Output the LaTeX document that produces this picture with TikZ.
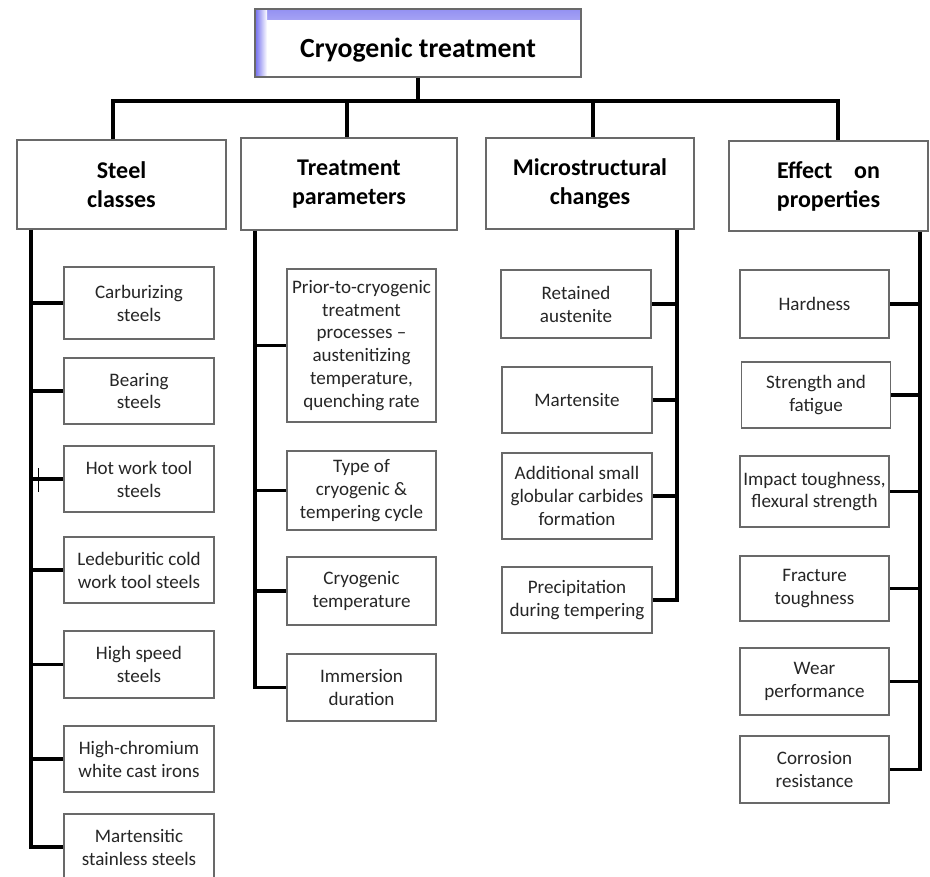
\documentclass[tikz,border=0pt]{standalone}
\usepackage{fontspec}
\setmainfont{Carlito}
\usetikzlibrary{positioning}
\definecolor{rim}{RGB}{105,105,105}
\definecolor{glow}{RGB}{112,108,238}
\newcommand{\pxu}{0.75pt}

\begin{document}
\begin{tikzpicture}[
    x=0.75pt, y=-0.75pt,
    every node/.style={font=\fontsize{14.3}{17.2}\selectfont, text=black!85},
    root/.style={draw=rim, line width=0.8pt, fill=white,
                 minimum width=326*\pxu, minimum height=68*\pxu,
                 text height=27pt, text depth=5pt,
                 font=\bfseries\fontsize{20.8}{25}\selectfont, text=black,
                 path picture={
                   \shade[top color=glow!75, middle color=glow!20, bottom color=white]
                     (path picture bounding box.north west) rectangle
                     ([yshift=-10*\pxu]path picture bounding box.north east);
                   \shade[left color=glow, middle color=glow!30, right color=white]
                     (path picture bounding box.south west) rectangle
                     ([xshift=12*\pxu]path picture bounding box.north west);
                 }},
    head/.style={draw=rim, line width=0.8pt, fill=white, align=center,
                 inner sep=2pt, font=\bfseries\fontsize{18}{21.8}\selectfont,
                 text=black},
    leaf/.style={draw=rim, line width=0.8pt, fill=white, align=center,
                 inner sep=2pt, minimum width=150*\pxu, minimum height=66*\pxu},
    bar/.style ={line width=2.8pt},
]
\path[use as bounding box, clip] (0,0) rectangle (930,876);

\node[root] (root) at (418,43) {Cryogenic treatment};

\node[head, minimum width=209*\pxu, minimum height=89*\pxu] (steel)  at (121.5,184.5) {Steel\\classes};
\node[head, minimum width=216*\pxu, minimum height=92*\pxu] (param)  at (349,184)     {Treatment\\parameters};
\node[head, minimum width=208*\pxu, minimum height=91*\pxu] (micro)  at (590,183.5)   {Microstructural\\changes};
\node[head, minimum width=199*\pxu, minimum height=90*\pxu] (effect) at (828.5,186)   {Effect~~~~on\\properties};

% steel classes
\node[leaf, minimum height=72*\pxu] (carb) at (139,303)   {Carburizing\\steels};
\node[leaf]                         (bear) at (139,391)   {Bearing\\steels};
\node[leaf]                         (hot)  at (139,479)   {Hot work tool\\steels};
\node[leaf]                         (lede) at (139,570)   {Ledeburitic cold\\work tool steels};
\node[leaf, minimum height=67*\pxu] (hss)  at (139,664.5) {High speed\\steels};
\node[leaf]                         (hcr)  at (139,759)   {High-chromium\\white cast irons};
\node[leaf]                         (mss)  at (139,847)   {Martensitic\\stainless steels};

% treatment parameters
\node[leaf, minimum width=149*\pxu, minimum height=153*\pxu] (prior) at (361.5,345.5)
    {Prior-to-cryogenic\\treatment\\processes --\\austenitizing\\temperature,\\quenching rate};
\node[leaf, minimum width=149*\pxu, minimum height=79*\pxu]  (cycle) at (361.5,490.5)
    {Type of\\cryogenic \&\\tempering cycle};
\node[leaf, minimum width=149*\pxu, minimum height=68*\pxu]  (ctemp) at (361.5,591)
    {Cryogenic\\temperature};
\node[leaf, minimum width=149*\pxu, minimum height=67*\pxu]  (immer) at (361.5,687.5)
    {Immersion\\duration};

% microstructural changes
\node[leaf, minimum height=68*\pxu] (ret)  at (576,304) {Retained\\austenite};
\node[leaf]                         (mart) at (577,400) {Martensite};
\node[leaf, minimum height=86*\pxu] (carbides) at (577,496) {Additional small\\globular carbides\\formation};
\node[leaf]                         (prec) at (577,600) {Precipitation\\during tempering};

% effect on properties
\node[leaf, minimum width=149*\pxu, minimum height=68*\pxu] (hard) at (814.5,304)   {Hardness};
\node[leaf, minimum width=149*\pxu]                         (str)  at (816,395)     {Strength and\\fatigue};
\node[leaf, minimum width=149*\pxu, minimum height=71*\pxu] (imp)  at (814.5,491.5) {Impact toughness,\\flexural strength};
\node[leaf, minimum width=149*\pxu, minimum height=65*\pxu] (frac) at (814.5,588.5) {Fracture\\toughness};
\node[leaf, minimum width=149*\pxu, minimum height=67*\pxu] (wear) at (814.5,681.5) {Wear\\performance};
\node[leaf, minimum width=149*\pxu, minimum height=67*\pxu] (corr) at (814.5,769.5) {Corrosion\\resistance};

% top level bar
\coordinate (d1) at (113,101);
\coordinate (d2) at (347,101);
\coordinate (d3) at (593,101);
\coordinate (d4) at (838,101);
\draw[bar] (root.south) -- (root.south |- d1);
\draw[bar] (steel.north -| d1) -- (d1) -- (d4) -- (effect.north -| d4);
\draw[bar] (d2) -- (param.north -| d2);
\draw[bar] (d3) -- (micro.north -| d3);

% spines
\coordinate (s1) at (31,0);
\coordinate (s2) at (255,0);
\coordinate (s3) at (677,0);
\coordinate (s4) at (920,0);

\draw[bar] (steel.south -| s1) |- (mss.west);
\draw[bar] (s1 |- carb.west) -- (carb.west);
\draw[bar] (s1 |- bear.west) -- (bear.west);
\draw[bar] (s1 |- hot.west)  -- (hot.west);
\draw[bar] (s1 |- lede.west) -- (lede.west);
\draw[bar] (s1 |- hss.west)  -- (hss.west);
\draw[bar] (s1 |- hcr.west)  -- (hcr.west);
\draw[black, line width=0.5pt] (38,468) -- (38,492);

\draw[bar] (param.south -| s2) |- (immer.west);
\draw[bar] (s2 |- prior.west) -- (prior.west);
\draw[bar] (s2 |- cycle.west) -- (cycle.west);
\draw[bar] (s2 |- ctemp.west) -- (ctemp.west);

\draw[bar] (micro.south -| s3) |- (prec.east);
\draw[bar] (s3 |- ret.east)      -- (ret.east);
\draw[bar] (s3 |- mart.east)     -- (mart.east);
\draw[bar] (s3 |- carbides.east) -- (carbides.east);

\draw[bar] (effect.south -| s4) |- (corr.east);
\draw[bar] (s4 |- hard.east) -- (hard.east);
\draw[bar] (s4 |- str.east)  -- (str.east);
\draw[bar] (s4 |- imp.east)  -- (imp.east);
\draw[bar] (s4 |- frac.east) -- (frac.east);
\draw[bar] (s4 |- wear.east) -- (wear.east);
\end{tikzpicture}
\end{document}
